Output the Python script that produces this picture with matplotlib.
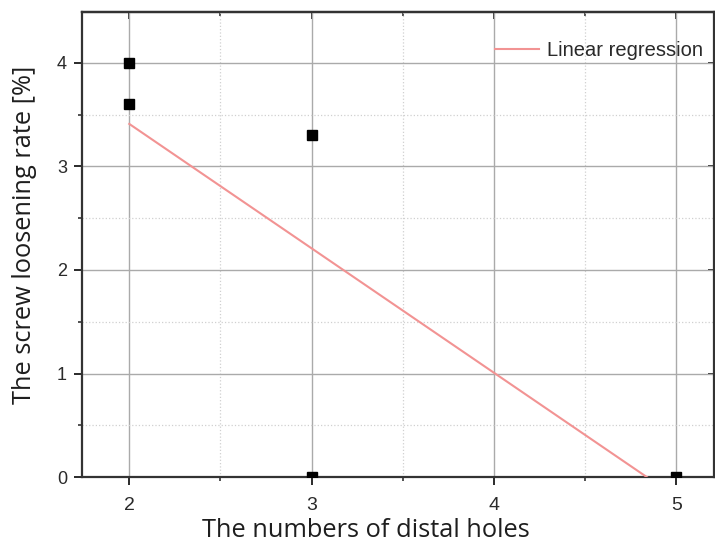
import matplotlib
matplotlib.use("Agg")
import matplotlib.pyplot as plt
from matplotlib.ticker import MultipleLocator

# data
holes = [2, 2, 3, 3, 5]
loosening = [4.0, 3.6, 3.3, 0.0, 0.0]
fit_x = [2.0, 4.84]
fit_y = [3.41, 0.0]
x_ticks = [2, 3, 4, 5]
y_ticks = [0, 1, 2, 3, 4]

fig = plt.figure(figsize=(7.15, 5.46), dpi=100)
ax = fig.add_axes([0.115, 0.126, 0.883, 0.852])

ax.plot(fit_x, fit_y, color="#f29393", lw=1.5, label="Linear regression", zorder=3)
ax.plot(holes, loosening, "s", color="black", ms=7, ls="none", zorder=4, clip_on=True)

ax.set_xlim(1.742, 5.205)
ax.set_ylim(0, 4.49)
ax.set_xticks(x_ticks)
ax.set_yticks(y_ticks)
ax.xaxis.set_minor_locator(MultipleLocator(0.5))
ax.yaxis.set_minor_locator(MultipleLocator(0.5))

ax.grid(which="major", color="#aaaaaa", lw=1.0)
ax.grid(which="minor", color="#d0d0d0", lw=0.9, ls=":")
ax.set_axisbelow(True)

for s in ax.spines.values():
    s.set_linewidth(1.6)
    s.set_color("#333333")

ax.tick_params(axis="x", which="major", direction="out", length=6, width=1.4,
               labelsize=14, colors="#2a2a2a", pad=8)
ax.tick_params(axis="y", which="major", direction="out", length=6, width=1.4,
               labelsize=13, colors="#2a2a2a", pad=5)
ax.tick_params(which="minor", direction="out", length=3, width=1.2, colors="#333333")
for lab in ax.get_xticklabels() + ax.get_yticklabels():
    lab.set_family("Liberation Sans")

# inward ticks on top and right
top = ax.secondary_xaxis("top")
top.set_xticks(x_ticks)
top.xaxis.set_minor_locator(MultipleLocator(0.5))
top.tick_params(which="major", direction="in", length=5, width=1.4, labeltop=False, colors="#333333")
top.tick_params(which="minor", direction="in", length=3, width=1.2, colors="#333333")
top.spines["top"].set_linewidth(1.6)
right = ax.secondary_yaxis("right")
right.set_yticks(y_ticks)
right.tick_params(direction="in", length=4, width=1.4, labelright=False, colors="#333333")

ax.set_xlabel("The numbers of distal holes", family="Open Sans", fontsize=18.3,
              color="#1e1e1e")
ax.set_ylabel("The screw loosening rate [%]", family="Open Sans", fontsize=18.3,
              color="#1e1e1e")
ax.xaxis.set_label_coords(0.45, -0.088)
ax.yaxis.set_label_coords(-0.071, 0.52)

leg = ax.legend(loc="upper right", frameon=False, handlelength=2.2,
                handletextpad=0.4, bbox_to_anchor=(1.012, 0.976),
                prop={"family": "Liberation Sans", "size": 14.5})
for t in leg.get_texts():
    t.set_color("#2a2a2a")

fig.savefig("out.png", dpi=100)
